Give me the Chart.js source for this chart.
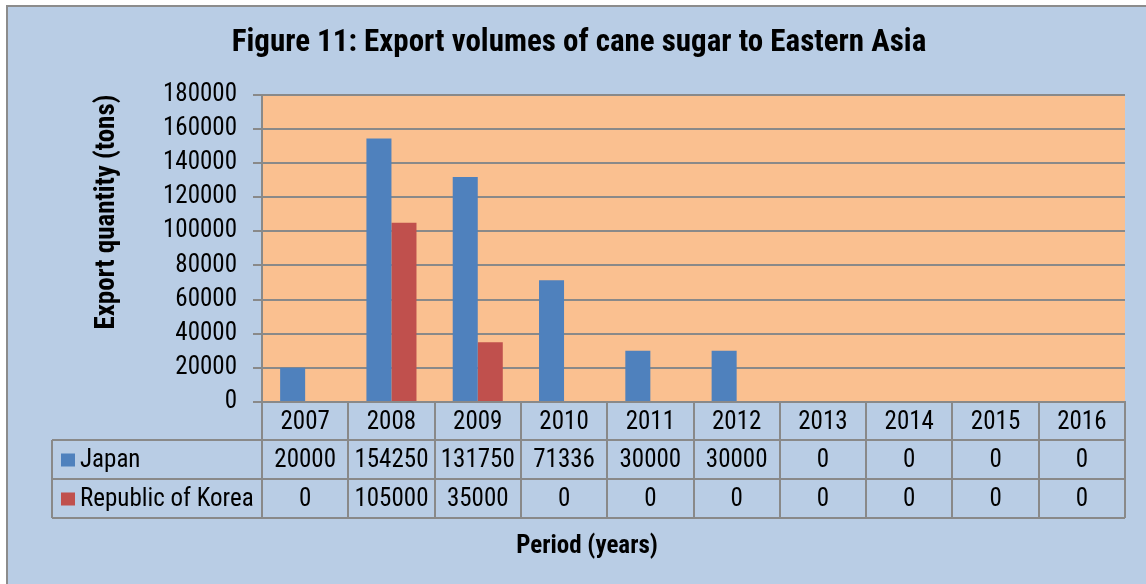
<!DOCTYPE html>
<html><head><meta charset="utf-8">
<script src="https://cdn.jsdelivr.net/npm/chart.js@4.4.1/dist/chart.umd.min.js"></script>
<style>
html,body{margin:0;padding:0;background:#fff;overflow:hidden}
#frame{position:absolute;left:6px;top:5px;width:1160px;height:600px;background:#B9CDE5;border-left:2px solid #8C8C8C;border-top:2px solid #8C8C8C}
#wrap{position:absolute;left:0;top:0;width:1146px;height:584px}
</style>
</head><body>
<div id="frame"></div>
<div id="wrap"><canvas id="c" width="1146" height="584"></canvas></div>
<script>
// ---- data ----
const categories = ['2007','2008','2009','2010','2011','2012','2013','2014','2015','2016'];
const japan = [20000, 154250, 131750, 71336, 30000, 30000, 0, 0, 0, 0];
const korea = [0, 105000, 35000, 0, 0, 0, 0, 0, 0, 0];
const seriesNames = ['Japan', 'Republic of Korea'];
const yTicks = [0, 20000, 40000, 60000, 80000, 100000, 120000, 140000, 160000, 180000];

const FONT = "'Roboto Condensed', 'Liberation Sans', sans-serif";
const GRID = '#898989';
const colors = ['#4F81BD', '#C0504D'];

const tablePlugin = {
  id: 'tablePlugin',
  beforeDraw(chart) {
    const {ctx, chartArea: a} = chart;
    ctx.save();
    ctx.fillStyle = '#FAC090';
    ctx.fillRect(a.left, a.top, a.right - a.left, a.bottom - a.top);
    ctx.restore();
  },
  afterDraw(chart) {
    const {ctx, chartArea: a} = chart;
    const xs = chart.scales.x;
    const n = categories.length;
    const w = (a.right - a.left) / n;
    const legLeft = 52;
    const r0 = a.bottom, r1 = 440, r2 = 479, r3 = 518;
    ctx.save();
    ctx.strokeStyle = GRID;
    ctx.lineWidth = 2;
    ctx.beginPath();
    for (let k = 0; k <= n; k++) {
      const x = Math.round(a.left + k * w);
      ctx.moveTo(x, r0); ctx.lineTo(x, r3);
    }
    ctx.moveTo(legLeft, r1); ctx.lineTo(legLeft, r3);
    for (const yy of [r1, r2, r3]) { ctx.moveTo(legLeft, yy); ctx.lineTo(Math.round(a.right), yy); }
    ctx.stroke();

    ctx.fillStyle = '#000';
    ctx.font = '25px ' + FONT;
    ctx.textAlign = 'center';
    ctx.textBaseline = 'middle';
    const rows = [japan, korea];
    for (let i = 0; i < n; i++) {
      const cx = xs.getPixelForValue(i);
      ctx.fillText(categories[i], cx, (r0 + r1) / 2 + 2);
      ctx.fillText(String(rows[0][i]), cx, (r1 + r2) / 2 + 1);
      ctx.fillText(String(rows[1][i]), cx, (r2 + r3) / 2 + 1);
    }
    ctx.textAlign = 'left';
    const rowMid = [(r1 + r2) / 2, (r2 + r3) / 2];
    for (let s = 0; s < 2; s++) {
      ctx.fillStyle = colors[s];
      ctx.fillRect(61, rowMid[s] - 6, 14, 13);
      ctx.fillStyle = '#000';
      ctx.fillText(seriesNames[s], 80, rowMid[s] + 1);
    }
    ctx.font = 'bold 25px ' + FONT;
    ctx.textAlign = 'center';
    ctx.fillText('Period (years)', 587, 547);
    ctx.restore();
  }
};

new Chart(document.getElementById('c'), {
  type: 'bar',
  data: {
    labels: categories,
    datasets: [
      {label: seriesNames[0], data: japan, backgroundColor: colors[0], categoryPercentage: 0.58, barPercentage: 1.0},
      {label: seriesNames[1], data: korea, backgroundColor: colors[1], categoryPercentage: 0.58, barPercentage: 1.0}
    ]
  },
  options: {
    responsive: false,
    animation: false,
    events: [],
    layout: {padding: {left: 33, right: 21, top: 25, bottom: 0}},
    plugins: {
      legend: {display: false},
      tooltip: {enabled: false},
      title: {
        display: true,
        text: 'Figure 11: Export volumes of cane sugar to Eastern Asia',
        color: '#000',
        font: {family: FONT, size: 31, weight: 'bold', lineHeight: 1.2},
        padding: {top: 0, bottom: 32.4}
      }
    },
    scales: {
      x: {
        grid: {display: false},
        border: {display: true, color: GRID, width: 2},
        ticks: {display: false},
        afterFit(scale) { scale.height = 182; }
      },
      y: {
        min: 0, max: 180000,
        afterBuildTicks(scale) { scale.ticks = yTicks.map(v => ({value: v})); },
        ticks: {
          color: '#000',
          padding: 16,
          font: {family: FONT, size: 25},
          callback: v => String(v)
        },
        grid: {color: GRID, lineWidth: 2, tickLength: 9, drawTicks: true},
        border: {display: true, color: GRID, width: 2},
        title: {
          display: true,
          text: 'Export quantity (tons)',
          align: 'end',
          color: '#000',
          font: {family: FONT, size: 27, weight: 'bold', lineHeight: 1.2},
          padding: {top: 58, bottom: 0}
        },
        afterFit(scale) { scale.width = 229; }
      }
    }
  },
  plugins: [tablePlugin]
});
</script>
</body></html>
